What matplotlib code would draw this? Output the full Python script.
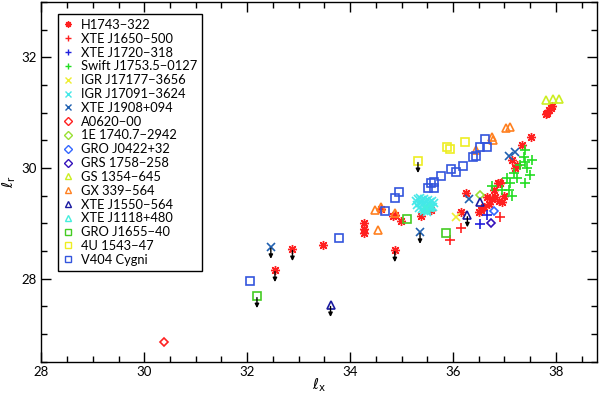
import matplotlib
matplotlib.use("Agg")
import matplotlib.pyplot as plt
from matplotlib.ticker import MultipleLocator

plt.rcParams["font.family"] = ["Lato", "DejaVu Sans"]
plt.rcParams["mathtext.fontset"] = "dejavusans"

# source name -> (x values, y values)
h1743_x = [32.54, 32.88, 33.47, 34.27, 34.27, 34.27, 34.87, 34.87, 34.99, 34.60, 34.83,
           35.37, 35.57, 36.15, 36.26, 36.67, 36.75, 36.82, 36.96, 36.88, 36.92, 36.70,
           36.60, 36.80, 36.90, 37.00, 37.15, 37.21, 37.25, 37.34, 37.52, 37.82, 37.86,
           37.90, 37.93, 37.80, 36.55, 36.50]
h1743_y = [28.16, 28.54, 28.61, 29.00, 28.90, 28.82, 28.52, 29.15, 29.05, 29.26, 29.14,
           29.14, 29.24, 29.21, 29.55, 29.48, 29.45, 29.48, 29.39, 29.73, 29.73, 29.35,
           29.30, 29.60, 29.40, 29.50, 30.14, 30.00, 30.05, 30.41, 30.56, 31.00, 31.05,
           31.08, 31.12, 30.98, 29.25, 29.20]
j1650_x = [35.95, 36.15, 36.92, 36.96]
j1650_y = [28.70, 28.92, 29.12, 29.73]
j1720_x = [36.53, 36.67]
j1720_y = [28.99, 29.15]
swift_x = [37.40, 37.38, 37.40, 37.30, 37.19, 37.50, 37.40, 37.11, 37.09, 37.15, 36.75,
           37.25, 37.44, 36.96, 37.05, 37.54]
swift_y = [30.32, 30.20, 30.11, 30.05, 29.91, 29.87, 29.73, 29.73, 29.60, 29.50, 29.68,
           29.82, 30.00, 29.60, 29.82, 30.14]
igr17177_x = [36.05]
igr17177_y = [29.12]
igr17091_x = [35.28, 35.32, 35.36, 35.40, 35.44, 35.48, 35.52, 35.56, 35.60, 35.63,
              35.30, 35.35, 35.42, 35.47, 35.53, 35.58, 35.34, 35.39, 35.45, 35.50,
              35.55, 35.61, 35.43, 35.49]
igr17091_y = [29.40, 29.44, 29.46, 29.42, 29.45, 29.40, 29.43, 29.38, 29.41, 29.36,
              29.33, 29.36, 29.35, 29.32, 29.34, 29.30, 29.28, 29.26, 29.27, 29.25,
              29.28, 29.30, 29.22, 29.21]
j1908_x = [32.46, 35.36, 36.32, 37.09, 37.21]
j1908_y = [28.58, 28.85, 29.44, 30.22, 30.29]
a0620_x = [30.39]
a0620_y = [26.85]
e1740_x = [36.53]
e1740_y = [29.51]
gro0422_x = [36.80]
gro0422_y = [29.23]
grs1758_x = [36.73]
grs1758_y = [29.01]
gs1354_x = [37.81, 37.94, 38.06]
gs1354_y = [31.23, 31.24, 31.24]
gx339_x = [37.03, 37.11, 36.76, 36.78, 36.44, 34.49, 34.54, 34.87, 34.60]
gx339_y = [30.72, 30.74, 30.56, 30.50, 30.32, 29.24, 28.88, 29.19, 29.30]
j1550_x = [36.53, 36.28, 33.62]
j1550_y = [29.39, 29.15, 27.53]
j1118_x = [35.55, 35.45]
j1118_y = [29.30, 29.26]
gro1655_x = [32.19, 35.86, 35.10]
gro1655_y = [27.69, 28.83, 29.08]
u1543_x = [35.32, 35.88, 35.95, 36.24]
u1543_y = [30.13, 30.38, 30.34, 30.47]
v404_x = [32.05, 33.79, 34.68, 34.87, 34.95, 35.51, 35.63, 35.57, 35.64, 35.76, 35.97,
          36.05, 36.20, 36.38, 36.44, 36.53, 36.67, 36.63]
v404_y = [27.96, 28.74, 29.23, 29.46, 29.57, 29.64, 29.64, 29.73, 29.75, 29.86, 29.98,
          29.93, 30.04, 30.20, 30.22, 30.38, 30.38, 30.52]

# upper limits (arrows)
ul_x = [32.54, 32.88, 34.87, 32.46, 35.36, 32.19, 35.32, 33.62, 36.28]
ul_y = [28.16, 28.54, 28.52, 28.58, 28.85, 27.69, 30.13, 27.53, 29.15]

series = [
    ("H1743\u2212322", h1743_x, h1743_y, (8, 2, 0), "#ff2020", 6.5),
    ("XTE J1650\u2212500", j1650_x, j1650_y, "+", "#ff2020", 7),
    ("XTE J1720\u2212318", j1720_x, j1720_y, "+", "#2020dd", 7),
    ("Swift J1753.5\u22120127", swift_x, swift_y, "+", "#22dd22", 7),
    ("IGR J17177\u22123656", igr17177_x, igr17177_y, "x", "#eeee30", 6),
    ("IGR J17091\u22123624", igr17091_x, igr17091_y, "x", "#44e8e8", 6),
    ("XTE J1908+094", j1908_x, j1908_y, "x", "#2060b0", 6),
    ("A0620\u221200", a0620_x, a0620_y, "D", "#ff2020", 4),
    ("1E 1740.7\u22122942", e1740_x, e1740_y, "D", "#99e033", 4),
    ("GRO J0422+32", gro0422_x, gro0422_y, "D", "#3366ff", 4.5),
    ("GRS 1758\u2212258", grs1758_x, grs1758_y, "D", "#3311bb", 4.5),
    ("GS 1354\u2212645", gs1354_x, gs1354_y, "^", "#ccee22", 6),
    ("GX 339\u2212564", gx339_x, gx339_y, "^", "#ff8020", 6),
    ("XTE J1550\u2212564", j1550_x, j1550_y, "^", "#1a1aa0", 6),
    ("XTE J1118+480", j1118_x, j1118_y, "^", "#44eedd", 6),
    ("GRO J1655\u221240", gro1655_x, gro1655_y, "s", "#44cc22", 6),
    ("4U 1543\u221247", u1543_x, u1543_y, "s", "#eeee22", 6),
    ("V404 Cygni", v404_x, v404_y, "s", "#3355dd", 6),
]

fig = plt.figure(figsize=(6, 3.95), dpi=100)
ax = fig.add_axes([0.069, 0.084, 0.926, 0.911])

for x, y in zip(ul_x, ul_y):
    ax.annotate("", xy=(x, y - 0.22), xytext=(x, y - 0.03),
                arrowprops=dict(arrowstyle="-|>", color="black", lw=1.0,
                                mutation_scale=6, shrinkA=0, shrinkB=0))

for label, xs, ys, m, c, ms in series:
    mew = 1.0 if label.startswith("H1743") else 1.2
    ax.plot(xs, ys, linestyle="none", marker=m, markersize=ms, markerfacecolor="none",
            markeredgecolor=c, markeredgewidth=mew, label=label)

ax.set_xlim(28, 38.8)
ax.set_ylim(26.5, 33.0)
ax.xaxis.set_major_locator(MultipleLocator(2))
ax.xaxis.set_minor_locator(MultipleLocator(0.5))
ax.yaxis.set_major_locator(MultipleLocator(2))
ax.yaxis.set_minor_locator(MultipleLocator(0.5))
ax.tick_params(which="both", direction="in", top=True, right=True, labelsize=9.5,
               width=1.0)
ax.tick_params(which="major", length=7)
ax.tick_params(which="minor", length=4)
ax.tick_params(axis="x", pad=3)
for sp in ax.spines.values():
    sp.set_linewidth(1.0)

ax.set_xlabel(r"$\ell_\mathrm{x}$", fontsize=10.5, labelpad=-1)
ax.set_ylabel(r"$\ell_\mathrm{r}$", fontsize=10.5, labelpad=2)

leg = ax.legend(loc="upper left", bbox_to_anchor=(0.030, 0.967), fontsize=9.3,
                frameon=True, fancybox=False, edgecolor="black", framealpha=1,
                handlelength=0.8, handletextpad=0.55, labelspacing=0.14,
                borderpad=0.4, borderaxespad=0)
leg.get_frame().set_linewidth(1.0)
for h in leg.legend_handles:
    h.set_markersize(4.5)
    h.set_markeredgewidth(1.0)

fig.savefig("out.png", dpi=100)
